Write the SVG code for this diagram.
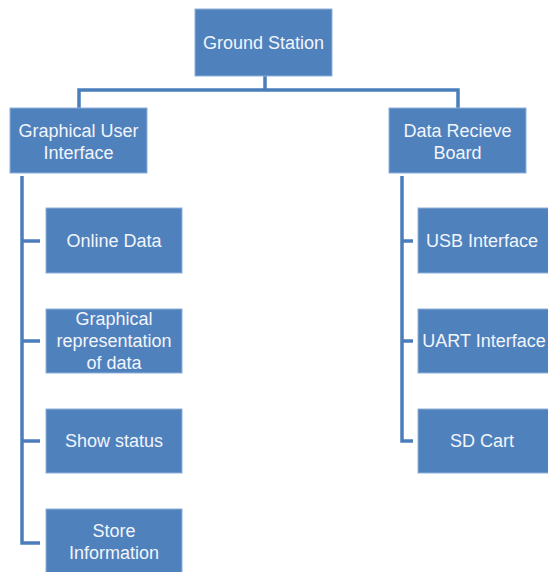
<svg xmlns="http://www.w3.org/2000/svg" width="548" height="572" viewBox="0 0 548 572">
<style>
.box{fill:#4f81bd;stroke:#8fb0da;stroke-width:1}
.t{font-family:"Liberation Sans","Open Sans",Arial,sans-serif;font-size:18px;fill:#f2f5fb;text-anchor:middle}
.c{fill:none;stroke:#4a7ebb;stroke-width:3.5;stroke-linejoin:miter}
</style>
<rect width="548" height="572" fill="#ffffff"/>
<g id="connectors">
<path class="c" d="M265 76V90M79 108V90H458V108"/>
<path class="c" d="M22 176V543H40M22 241H40M22 341H40M22 441H40"/>
<path class="c" d="M402 176V441H413M402 241H413M402 341H413"/>
</g>
<g id="ground-station"><rect class="box" x="195" y="9" width="137" height="67"/><text class="t" x="263.5" y="49">Ground Station</text></g>
<g id="gui"><rect class="box" x="10" y="108" width="137" height="65"/><text class="t" x="78.5" y="137">Graphical User</text><text class="t" x="78.5" y="159">Interface</text></g>
<g id="data-board"><rect class="box" x="389" y="108" width="137" height="65"/><text class="t" x="457.5" y="137">Data Recieve</text><text class="t" x="457.5" y="159">Board</text></g>
<g id="online-data"><rect class="box" x="46" y="208" width="136" height="65"/><text class="t" x="114" y="247">Online Data</text></g>
<g id="graphical-rep"><rect class="box" x="46" y="309" width="136" height="64"/><text class="t" x="114" y="325">Graphical</text><text class="t" x="114" y="347">representation</text><text class="t" x="114" y="369">of data</text></g>
<g id="show-status"><rect class="box" x="46" y="409" width="136" height="64"/><text class="t" x="114" y="447">Show status</text></g>
<g id="store-info"><rect class="box" x="46" y="509" width="136" height="66"/><text class="t" x="114" y="537">Store</text><text class="t" x="114" y="559">Information</text></g>
<g id="usb"><rect class="box" x="418" y="208" width="136" height="65"/><text class="t" x="482" y="247">USB Interface</text></g>
<g id="uart"><rect class="box" x="418" y="309" width="136" height="64"/><text class="t" x="484" y="347">UART Interface</text></g>
<g id="sd-cart"><rect class="box" x="418" y="409" width="136" height="64"/><text class="t" x="482" y="447">SD Cart</text></g>
</svg>
